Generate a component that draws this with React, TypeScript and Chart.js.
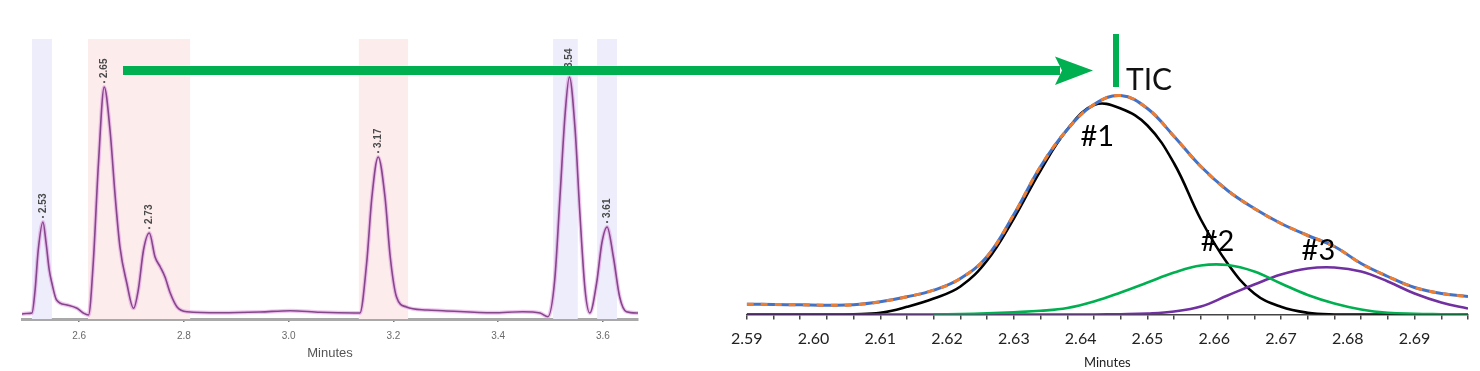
import React, { useEffect, useRef } from "react";
import { Chart, registerables } from "chart.js";

Chart.register(...registerables);

// ---------- Left chromatogram ----------
const leftTimes = [
  2.491, 2.5, 2.51, 2.516, 2.522, 2.531, 2.537, 2.543, 2.548, 2.557, 2.577, 2.596, 2.608, 2.618,
  2.627, 2.637, 2.648, 2.659, 2.669, 2.678, 2.691, 2.704, 2.713, 2.723, 2.734, 2.745, 2.755, 2.764,
  2.774, 2.787, 2.806, 2.869, 2.945, 3.003, 3.06, 3.127, 3.136, 3.149, 3.159, 3.171, 3.184, 3.194,
  3.206, 3.225, 3.264, 3.295, 3.39, 3.447, 3.48, 3.495, 3.508, 3.518, 3.528, 3.536, 3.547, 3.556,
  3.566, 3.575, 3.588, 3.598, 3.608, 3.62, 3.632, 3.645, 3.667,
];
const leftSignal = [
  -1, -0.5, 0, 23, 63, 91, 70, 43, 30, 13, 8, 4.7, 0, -2,
  50, 150, 226, 183, 116, 66, 30, 4.7, 23, 63, 80, 56, 46, 36,
  20, 6, 1.3, 0.3, 1, 2.3, 0.7, 0, 0, 50, 116, 156, 116, 56,
  16, 6, 3, 2.3, 0.3, 1.3, 0, -3.7, 33, 116, 200, 236, 183, 100,
  23, 0, 30, 70, 86, 56, 16, 1.3, 0,
];
const leftPeakTimes = [2.531, 2.648, 2.734, 3.171, 3.536, 3.608];
const leftPeakLabels = ["2.53", "2.65", "2.73", "3.17", "3.54", "3.61"];
const leftBlueBands = [
  [2.51, 2.548],
  [3.505, 3.552],
  [3.589, 3.627],
];
const leftPinkBands = [
  [2.617, 2.812],
  [3.134, 3.228],
];
const leftTickValues = [2.6, 2.8, 3.0, 3.2, 3.4, 3.6];

// ---------- Right deconvolution ----------
const rightTimes = [
  2.59, 2.594, 2.598, 2.602, 2.606, 2.61, 2.614, 2.618, 2.622, 2.626, 2.63, 2.634, 2.638, 2.642,
  2.646, 2.65, 2.654, 2.658, 2.662, 2.666, 2.67, 2.674, 2.678, 2.682, 2.686, 2.69, 2.694, 2.698,
];
const ticSignal = [
  10.3, 10, 9.7, 9.3, 9.7, 12.7, 17.7, 24.3, 36, 58, 100, 148, 185, 210,
  219, 206, 178, 148, 124, 106, 91, 79, 68, 51, 38, 27, 21, 18,
];
const peak1 = [
  0, 0, 0, 0, 0.3, 1.7, 7.7, 16, 28, 54, 96, 144, 185, 209.5,
  206, 189, 151, 95, 51, 21, 7.7, 1.7, 0, 0, 0, 0, 0, 0,
];
const peak2 = [
  null, null, null, null, null, null, null, 0, 0.5, 1.2, 2.3, 3.7, 6.5, 13,
  22, 32, 42, 49, 49.5, 43, 31, 19.5, 11, 5, 1.7, 0.7, 0.3, 0,
];
const peak3 = [
  0, 0, 0, 0, 0, 0, 0, 0, 0, 0, 0, 0, 0, 0,
  0.3, 1, 3, 8, 19, 30, 40, 46, 47, 43, 33, 21, 12, 6,
];
const rightTickValues = Array.from({ length: 55 }, (_, i) => +(2.59 + i * 0.002).toFixed(3));
const componentLabels = ["#1", "#2", "#3"];
const componentLabelTimes = [2.6425, 2.6605, 2.6756];
const componentLabelLevels = [168.5, 64, 54.5];

const toXY = (xs: number[], ys: (number | null)[]) => xs.map((x, i) => ({ x, y: ys[i] }));

function LeftChart() {
  const ref = useRef<HTMLCanvasElement>(null);
  useEffect(() => {
    const bands = {
      id: "bands",
      beforeDatasetsDraw(chart: any) {
        const { ctx, chartArea, scales } = chart;
        ctx.save();
        const draw = (list: number[][], color: string) => {
          ctx.fillStyle = color;
          list.forEach(([a, b]) => {
            const x1 = scales.x.getPixelForValue(a);
            const x2 = scales.x.getPixelForValue(b);
            ctx.fillRect(x1, chartArea.top, x2 - x1, chartArea.bottom - chartArea.top);
          });
        };
        draw(leftBlueBands, "rgb(237,237,251)");
        draw(leftPinkBands, "rgb(253,236,236)");
        ctx.restore();
      },
    };
    const peakLabels = {
      id: "peakLabels",
      afterDatasetsDraw(chart: any) {
        const { ctx, scales } = chart;
        ctx.save();
        ctx.fillStyle = "#4a4a4a";
        ctx.font = "bold 10px 'Liberation Sans', Arial, sans-serif";
        leftPeakTimes.forEach((t, i) => {
          let best = 0;
          leftTimes.forEach((lt, j) => {
            if (Math.abs(lt - t) < 0.006) best = Math.max(best, leftSignal[j]);
          });
          const px = scales.x.getPixelForValue(t);
          const py = scales.y.getPixelForValue(best);
          ctx.beginPath();
          ctx.arc(px, py - 5, 1.1, 0, Math.PI * 2);
          ctx.fill();
          ctx.save();
          ctx.translate(px, py - 9);
          ctx.rotate(-Math.PI / 2);
          ctx.textAlign = "left";
          ctx.textBaseline = "middle";
          ctx.fillText(leftPeakLabels[i], 0, 0);
          ctx.restore();
        });
        ctx.restore();
      },
    };
    const chart = new Chart(ref.current!, {
      type: "line",
      data: {
        datasets: [
          {
            data: toXY(leftTimes, leftSignal),
            borderColor: "#83478a",
            borderWidth: 1.6,
            pointRadius: 0,
            cubicInterpolationMode: "monotone",
          },
          {
            data: toXY(leftTimes, leftSignal),
            borderColor: "rgba(225,150,225,0.55)",
            borderWidth: 4,
            pointRadius: 0,
            cubicInterpolationMode: "monotone",
          },
        ],
      },
      options: {
        animation: false,
        responsive: false,
        events: [],
        layout: { padding: { left: 22, right: 22, top: 39, bottom: 0 } },
        plugins: { legend: { display: false }, tooltip: { enabled: false } },
        scales: {
          x: {
            type: "linear",
            min: 2.491,
            max: 3.667,
            afterBuildTicks: (scale: any) => {
              scale.ticks = leftTickValues.map((v) => ({ value: v }));
            },
            afterFit: (scale: any) => {
              scale.height = 52;
            },
            border: { display: true, color: "#a9a9a9", width: 3 },
            grid: { display: true, drawOnChartArea: false, tickLength: 3, tickColor: "#777", lineWidth: 1.5 },
            ticks: {
              autoSkip: false,
              maxRotation: 0,
              padding: 8,
              color: "#6a6a6a",
              font: { size: 10, family: "'Liberation Sans', Arial, sans-serif" },
              callback: (v: any) => Number(v).toFixed(1),
            },
            title: {
              display: true,
              text: "Minutes",
              color: "#555",
              font: { size: 13, family: "'Liberation Sans', Arial, sans-serif" },
              padding: { top: 0, bottom: 10 },
            },
          },
          y: { display: false, min: -6, max: 274 },
        },
      },
      plugins: [bands, peakLabels],
    } as any);
    return () => chart.destroy();
  }, []);
  return <canvas ref={ref} width={660} height={371} style={{ position: "absolute", left: 0, top: 0, width: 660, height: 371 }} />;
}

function RightChart() {
  const ref = useRef<HTMLCanvasElement>(null);
  useEffect(() => {
    const compLabels = {
      id: "compLabels",
      afterDatasetsDraw(chart: any) {
        const { ctx, scales } = chart;
        ctx.save();
        ctx.fillStyle = "#000";
        ctx.font = "29px Lato, 'Open Sans', sans-serif";
        ctx.textAlign = "center";
        ctx.textBaseline = "alphabetic";
        componentLabels.forEach((lab, i) => {
          ctx.fillText(lab, scales.x.getPixelForValue(componentLabelTimes[i]), scales.y.getPixelForValue(componentLabelLevels[i]));
        });
        ctx.restore();
      },
    };
    const isMark = (v: number) => (Math.round(v * 1000) - 2590) % 4 === 0;
    const isLabel = (v: number) => Math.round(v * 1000) % 10 === 0;
    const line = (data: any, color: string, order: number, extra: any = {}) => ({
      data,
      borderColor: color,
      borderWidth: 2.6,
      pointRadius: 0,
      tension: 0.4,
      order,
      ...extra,
    });
    const chart = new Chart(ref.current!, {
      type: "line",
      data: {
        datasets: [
          line(toXY(rightTimes, ticSignal), "#ed7d31", 0, { borderDash: [7, 7], borderWidth: 3 }),
          line(toXY(rightTimes, ticSignal), "#4472c4", 1, { borderWidth: 3 }),
          line(toXY(rightTimes, peak2), "#00b050", 2),
          line(toXY(rightTimes, peak3), "#7030a0", 3),
          line(toXY(rightTimes, peak1), "#000000", 4),
        ],
      },
      options: {
        animation: false,
        responsive: false,
        events: [],
        layout: { padding: { left: 86.7, right: 12, top: 30, bottom: 0 } },
        plugins: { legend: { display: false }, tooltip: { enabled: false } },
        scales: {
          x: {
            type: "linear",
            min: 2.59,
            max: 2.698,
            afterBuildTicks: (scale: any) => {
              scale.ticks = rightTickValues.map((v) => ({ value: v }));
            },
            afterFit: (scale: any) => {
              scale.height = 56.5;
            },
            border: { display: true, color: "#444", width: 1.5 },
            grid: {
              display: true,
              drawOnChartArea: false,
              tickLength: 5,
              lineWidth: 1.5,
              tickColor: (c: any) => (isMark(c.tick.value) ? "#444" : "rgba(0,0,0,0)"),
            },
            ticks: {
              autoSkip: false,
              maxRotation: 0,
              padding: 10,
              color: "#222",
              font: { size: 16, family: "Lato, 'Open Sans', sans-serif" },
              callback: (v: any) => (isLabel(Number(v)) ? Number(v).toFixed(2) : ""),
            },
            title: {
              display: true,
              text: "Minutes",
              color: "#222",
              font: { size: 13, family: "Lato, 'Open Sans', sans-serif" },
              padding: { top: 0, bottom: 0 },
            },
          },
          y: { display: false, min: 0, max: 284.5 },
        },
      },
      plugins: [compLabels],
    } as any);
    return () => chart.destroy();
  }, []);
  return <canvas ref={ref} width={820} height={371} style={{ position: "absolute", left: 660, top: 0, width: 820, height: 371 }} />;
}

export default function App() {
  return (
    <div style={{ position: "absolute", left: 0, top: 0, width: 1480, height: 371, background: "#fff", overflow: "hidden" }}>
      <LeftChart />
      <RightChart />
      <svg width={1480} height={371} style={{ position: "absolute", left: 0, top: 0, pointerEvents: "none" }}>
        <rect x={123} y={66} width={937} height={9} fill="#00b050" />
        <polygon points="1055,56.5 1093,70.5 1055,85 1062,70.5" fill="#00b050" />
        <rect x={1113} y={34} width={6} height={53} fill="#00b050" />
        <text x={1126} y={90} fontFamily="Lato, 'Open Sans', sans-serif" fontSize={30} fill="#111">TIC</text>
      </svg>
    </div>
  );
}
